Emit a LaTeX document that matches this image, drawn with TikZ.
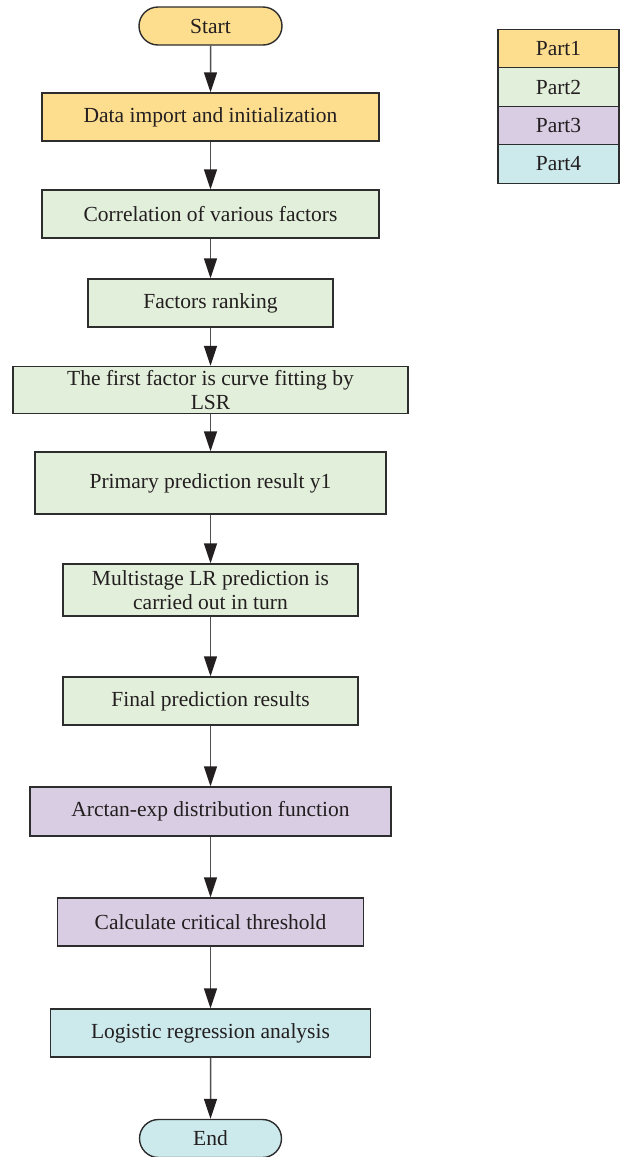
\documentclass[tikz,border=0pt]{standalone}
\usepackage{fontspec}
\setmainfont{Liberation Serif}
\usetikzlibrary{arrows.meta,shapes.misc}
\definecolor{pone}{RGB}{253,221,142}
\definecolor{ptwo}{RGB}{226,239,218}
\definecolor{pthree}{RGB}{216,205,226}
\definecolor{pfour}{RGB}{204,233,236}
\definecolor{edge}{RGB}{45,45,45}
\definecolor{lne}{RGB}{80,80,80}
\definecolor{txt}{RGB}{35,31,32}
\begin{document}
\begin{tikzpicture}[x=1pt,y=-1pt,
  base/.style={draw=edge,line width=1.4pt,inner sep=0pt,text=txt,align=center,
    font=\fontsize{21.5}{24}\selectfont},
  box/.style={base,rectangle,minimum height=48pt},
  term/.style={base,rounded rectangle,minimum height=38pt},
  arr/.style={draw=lne,line width=1.5pt,-{Triangle[width=13pt,length=20pt,fill=txt,color=txt]}}]
\useasboundingbox (0,0) rectangle (621,1157);
\node[term,fill=pone,minimum width=143pt] (start) at (210.5,26) {Start};
\node[box,fill=pone,minimum width=337pt] (data) at (210.5,117) {Data import and initialization};
\node[box,fill=ptwo,minimum width=337pt] (corr) at (210.5,214) {Correlation of various factors};
\node[box,fill=ptwo,minimum width=245pt] (rank) at (210.5,303) {Factors ranking};
\node[box,fill=ptwo,minimum width=395pt,minimum height=47pt] (first) at (210.5,390) {The first factor is curve fitting by\\LSR};
\node[box,fill=ptwo,minimum width=351pt,minimum height=62pt] (prim) at (210.5,483) {Primary prediction result y1};
\node[box,fill=ptwo,minimum width=295pt,minimum height=52pt] (multi) at (210.5,590) {Multistage LR prediction is\\carried out in turn};
\node[box,fill=ptwo,minimum width=295pt] (final) at (210.5,701) {Final prediction results};
\node[box,fill=pthree,minimum width=361pt,minimum height=49pt] (arctan) at (210.5,811.5) {Arctan-exp distribution function};
\node[box,fill=pthree,minimum width=306pt] (calc) at (210.5,922) {Calculate critical threshold};
\node[box,fill=pfour,minimum width=320pt] (logi) at (210.5,1033) {Logistic regression analysis};
\node[term,fill=pfour,minimum width=142pt] (end) at (210.5,1138.5) {End};
\draw[arr] (start) -- (data);
\draw[arr] (data) -- (corr);
\draw[arr] (corr) -- (rank);
\draw[arr] (rank) -- (first);
\draw[arr] (first) -- (prim);
\draw[arr] (prim) -- (multi);
\draw[arr] (multi) -- (final);
\draw[arr] (final) -- (arctan);
\draw[arr] (arctan) -- (calc);
\draw[arr] (calc) -- (logi);
\draw[arr] (logi) -- (end);
\node[box,fill=pone,minimum width=121pt,minimum height=38.5pt] (p1) at (558.5,48.5) {Part1};
\node[box,fill=ptwo,minimum width=121pt,minimum height=38.5pt] (p2) at (558.5,87) {Part2};
\node[box,fill=pthree,minimum width=121pt,minimum height=38.5pt] (p3) at (558.5,125.5) {Part3};
\node[box,fill=pfour,minimum width=121pt,minimum height=38.5pt] (p4) at (558.5,164) {Part4};
\end{tikzpicture}
\end{document}
